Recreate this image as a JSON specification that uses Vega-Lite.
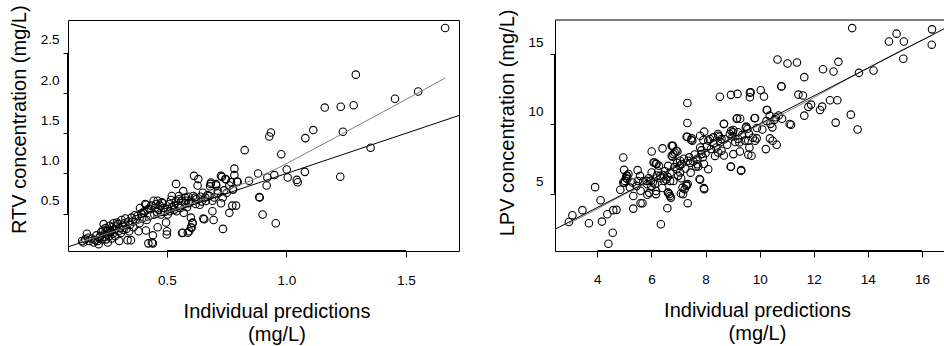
{
  "$schema": "https://vega.github.io/schema/vega-lite/v6.json",
  "background": "white",
  "padding": {"left": 8, "top": 4, "right": 0, "bottom": 0},
  "bounds": "flush",
  "spacing": 96,
  "config": {
    "font": "Liberation Sans",
    "view": {"stroke": "black", "strokeWidth": 1},
    "axis": {
      "domain": false, "grid": false, "tickColor": "black", "tickWidth": 1,
      "labelColor": "black", "labelFont": "Liberation Sans", "labelFontSize": 13.5,
      "titleFont": "Liberation Sans", "titleFontSize": 20, "titleFontWeight": "normal", "titleColor": "black",
      "titleLineHeight": 23
    }
  },
  "datasets": {
    "rtv": [
      {"x":0.145,"y":0.16},{"x":0.150,"y":0.14},{"x":0.158,"y":0.18},{"x":0.165,"y":0.25},{"x":0.170,"y":0.20},{"x":0.175,"y":0.16},{"x":0.185,"y":0.19},{"x":0.193,"y":0.14},{"x":0.200,"y":0.17},{"x":0.205,"y":0.23},
      {"x":0.210,"y":0.16},{"x":0.214,"y":0.12},{"x":0.218,"y":0.20},{"x":0.221,"y":0.22},{"x":0.225,"y":0.27},{"x":0.228,"y":0.18},{"x":0.232,"y":0.30},{"x":0.235,"y":0.37},{"x":0.238,"y":0.25},{"x":0.240,"y":0.21},
      {"x":0.243,"y":0.32},{"x":0.245,"y":0.18},{"x":0.248,"y":0.28},{"x":0.250,"y":0.24},{"x":0.252,"y":0.14},{"x":0.255,"y":0.30},{"x":0.258,"y":0.22},{"x":0.260,"y":0.35},{"x":0.263,"y":0.27},{"x":0.266,"y":0.28},
      {"x":0.268,"y":0.19},{"x":0.270,"y":0.33},{"x":0.273,"y":0.25},{"x":0.276,"y":0.38},{"x":0.280,"y":0.30},{"x":0.283,"y":0.22},{"x":0.287,"y":0.34},{"x":0.291,"y":0.39},{"x":0.294,"y":0.37},{"x":0.297,"y":0.28},
      {"x":0.300,"y":0.16},{"x":0.303,"y":0.32},{"x":0.307,"y":0.26},{"x":0.310,"y":0.42},{"x":0.314,"y":0.35},{"x":0.318,"y":0.30},{"x":0.322,"y":0.38},{"x":0.326,"y":0.44},{"x":0.330,"y":0.31},{"x":0.335,"y":0.17},
      {"x":0.338,"y":0.40},{"x":0.342,"y":0.28},{"x":0.345,"y":0.36},{"x":0.349,"y":0.17},{"x":0.352,"y":0.45},{"x":0.356,"y":0.40},{"x":0.360,"y":0.33},{"x":0.365,"y":0.48},{"x":0.370,"y":0.43},{"x":0.377,"y":0.47},
      {"x":0.381,"y":0.28},{"x":0.385,"y":0.38},{"x":0.387,"y":0.57},{"x":0.392,"y":0.50},{"x":0.396,"y":0.45},{"x":0.402,"y":0.51},{"x":0.405,"y":0.53},{"x":0.409,"y":0.62},{"x":0.412,"y":0.29},{"x":0.412,"y":0.61},
      {"x":0.415,"y":0.42},{"x":0.418,"y":0.55},{"x":0.422,"y":0.13},{"x":0.426,"y":0.56},{"x":0.430,"y":0.48},{"x":0.434,"y":0.60},{"x":0.437,"y":0.14},{"x":0.441,"y":0.23},{"x":0.441,"y":0.13},{"x":0.444,"y":0.66},
      {"x":0.447,"y":0.49},{"x":0.450,"y":0.57},{"x":0.455,"y":0.62},{"x":0.458,"y":0.52},{"x":0.461,"y":0.66},{"x":0.461,"y":0.33},{"x":0.465,"y":0.55},{"x":0.470,"y":0.60},{"x":0.475,"y":0.49},{"x":0.478,"y":0.64},
      {"x":0.482,"y":0.63},{"x":0.485,"y":0.57},{"x":0.490,"y":0.52},{"x":0.496,"y":0.39},{"x":0.499,"y":0.24},{"x":0.500,"y":0.28},{"x":0.503,"y":0.56},{"x":0.503,"y":0.49},{"x":0.508,"y":0.62},{"x":0.512,"y":0.53},
      {"x":0.517,"y":0.67},{"x":0.522,"y":0.58},{"x":0.530,"y":0.55},{"x":0.538,"y":0.66},{"x":0.538,"y":0.87},{"x":0.545,"y":0.61},{"x":0.550,"y":0.68},{"x":0.556,"y":0.57},{"x":0.563,"y":0.26},{"x":0.568,"y":0.78},
      {"x":0.570,"y":0.51},{"x":0.576,"y":0.63},{"x":0.584,"y":0.58},{"x":0.591,"y":0.63},{"x":0.593,"y":0.28},{"x":0.600,"y":0.33},{"x":0.607,"y":0.38},{"x":0.613,"y":0.97},{"x":0.618,"y":0.70},{"x":0.622,"y":0.68},
      {"x":0.628,"y":0.85},{"x":0.631,"y":0.93},{"x":0.637,"y":0.61},{"x":0.645,"y":0.65},{"x":0.656,"y":0.43},{"x":0.660,"y":0.70},{"x":0.670,"y":0.73},{"x":0.678,"y":0.72},{"x":0.680,"y":0.84},{"x":0.683,"y":0.87},
      {"x":0.690,"y":0.53},{"x":0.695,"y":0.42},{"x":0.698,"y":0.70},{"x":0.706,"y":0.85},{"x":0.713,"y":0.75},{"x":0.726,"y":0.97},{"x":0.726,"y":0.63},{"x":0.734,"y":0.31},{"x":0.739,"y":0.79},{"x":0.744,"y":0.93},
      {"x":0.750,"y":0.76},{"x":0.761,"y":0.85},{"x":0.761,"y":0.51},{"x":0.768,"y":0.89},{"x":0.773,"y":0.60},{"x":0.777,"y":0.80},{"x":0.782,"y":1.06},{"x":0.782,"y":0.98},{"x":0.789,"y":0.60},{"x":0.793,"y":0.90},
      {"x":0.825,"y":1.29},{"x":0.843,"y":0.91},{"x":0.881,"y":1.00},{"x":0.888,"y":0.70},{"x":0.900,"y":0.49},{"x":0.917,"y":0.85},{"x":0.920,"y":0.95},{"x":0.928,"y":1.46},{"x":0.935,"y":1.51},{"x":0.949,"y":0.98},
      {"x":0.955,"y":0.38},{"x":0.978,"y":1.24},{"x":1.001,"y":1.05},{"x":1.005,"y":0.95},{"x":1.043,"y":0.92},{"x":1.047,"y":0.89},{"x":1.077,"y":1.02},{"x":1.079,"y":1.44},{"x":1.112,"y":1.54},{"x":1.160,"y":1.82},
      {"x":1.225,"y":0.96},{"x":1.227,"y":1.83},{"x":1.236,"y":1.52},{"x":1.281,"y":1.85},{"x":1.290,"y":2.23},{"x":1.352,"y":1.32},{"x":1.454,"y":1.93},{"x":1.551,"y":2.02},{"x":1.664,"y":2.81},
      {"x":0.55,"y":0.72},{"x":0.56,"y":0.66},{"x":0.575,"y":0.70},{"x":0.59,"y":0.71},{"x":0.60,"y":0.66},{"x":0.61,"y":0.72},{"x":0.62,"y":0.62},{"x":0.64,"y":0.71},{"x":0.65,"y":0.76},{"x":0.52,"y":0.72},
      {"x":0.53,"y":0.60},{"x":0.54,"y":0.53},{"x":0.58,"y":0.66},{"x":0.60,"y":0.45},{"x":0.603,"y":0.325},{"x":0.566,"y":0.263},{"x":0.587,"y":0.263},{"x":0.652,"y":0.438},{"x":0.663,"y":0.658},{"x":0.705,"y":0.867},
      {"x":0.730,"y":0.958},{"x":0.796,"y":0.895},{"x":0.775,"y":0.80},{"x":0.712,"y":0.783},{"x":0.733,"y":0.70},{"x":0.69,"y":0.66},{"x":0.886,"y":0.708},{"x":0.607,"y":0.388},{"x":0.684,"y":0.887},{"x":0.747,"y":0.929}
    ],
    "rtvIdentity": [{"x":0,"y":0},{"x":3,"y":3}],
    "rtvSmooth": [
      {"x":0.145,"y":0.15},{"x":0.30,"y":0.30},{"x":0.45,"y":0.46},{"x":0.60,"y":0.62},{"x":0.72,"y":0.76},{"x":0.85,"y":0.91},{"x":0.977,"y":1.086},{"x":1.20,"y":1.44},{"x":1.45,"y":1.84},{"x":1.664,"y":2.188}
    ],
    "lpv": [
      {"x":13.42,"y":16.87},{"x":15.06,"y":16.47},{"x":14.78,"y":15.91},{"x":15.33,"y":15.91},{"x":16.37,"y":16.78},{"x":16.36,"y":15.68},{"x":15.31,"y":14.67},{"x":14.21,"y":13.83},{"x":13.67,"y":13.66},{"x":12.34,"y":13.92},
      {"x":12.73,"y":13.76},{"x":12.91,"y":14.45},{"x":10.66,"y":14.62},{"x":11.03,"y":14.33},{"x":11.38,"y":14.40},{"x":11.65,"y":13.35},{"x":10.81,"y":12.70},{"x":11.43,"y":12.10},{"x":11.60,"y":12.03},{"x":10.04,"y":12.41},
      {"x":10.16,"y":11.96},{"x":8.53,"y":11.94},{"x":8.94,"y":12.08},{"x":9.18,"y":12.15},{"x":9.64,"y":12.24},{"x":9.64,"y":11.91},{"x":7.33,"y":11.50},{"x":12.60,"y":11.69},{"x":12.87,"y":11.69},{"x":11.80,"y":11.22},
      {"x":11.90,"y":11.38},{"x":12.23,"y":11.00},{"x":12.31,"y":11.24},{"x":10.26,"y":11.00},{"x":11.65,"y":10.59},{"x":13.37,"y":10.66},{"x":13.62,"y":9.60},{"x":12.81,"y":10.09},{"x":10.37,"y":10.59},{"x":10.60,"y":10.47},
      {"x":10.83,"y":10.37},{"x":11.16,"y":9.94},{"x":10.47,"y":9.75},{"x":9.83,"y":10.42},{"x":9.15,"y":10.37},{"x":9.28,"y":10.37},{"x":8.68,"y":9.99},{"x":7.33,"y":10.06},{"x":9.49,"y":9.73},{"x":9.55,"y":9.63},
      {"x":9.03,"y":9.56},{"x":8.90,"y":9.27},{"x":7.30,"y":9.08},{"x":7.49,"y":8.96},{"x":7.95,"y":9.44},{"x":7.80,"y":9.15},{"x":7.92,"y":8.84},{"x":8.16,"y":8.91},{"x":8.47,"y":9.15},{"x":8.59,"y":8.91},
      {"x":9.21,"y":8.91},{"x":9.25,"y":8.67},{"x":9.58,"y":8.79},{"x":9.89,"y":8.96},{"x":9.83,"y":8.79},{"x":10.38,"y":8.96},{"x":10.48,"y":8.79},{"x":10.63,"y":8.50},{"x":10.23,"y":8.19},{"x":9.62,"y":8.31},
      {"x":9.58,"y":7.78},{"x":9.70,"y":7.71},{"x":9.27,"y":8.02},{"x":9.03,"y":7.83},{"x":8.68,"y":7.73},{"x":8.47,"y":7.95},{"x":8.59,"y":8.07},{"x":8.29,"y":9.03},{"x":7.80,"y":8.31},{"x":7.85,"y":7.83},
      {"x":7.51,"y":8.79},{"x":6.77,"y":8.41},{"x":6.96,"y":8.02},{"x":6.41,"y":8.24},{"x":6.01,"y":8.02},{"x":6.81,"y":7.83},{"x":6.78,"y":7.64},{"x":6.08,"y":7.23},{"x":6.19,"y":7.12},{"x":6.28,"y":6.99},
      {"x":7.06,"y":7.35},{"x":7.12,"y":7.12},{"x":7.36,"y":7.35},{"x":7.43,"y":7.19},{"x":7.65,"y":6.94},{"x":7.73,"y":6.94},{"x":7.94,"y":7.12},{"x":8.10,"y":6.75},{"x":8.94,"y":6.94},{"x":9.31,"y":6.63},
      {"x":4.96,"y":7.59},{"x":4.99,"y":6.70},{"x":5.08,"y":6.27},{"x":5.02,"y":5.91},{"x":5.11,"y":6.04},{"x":4.96,"y":5.79},{"x":5.49,"y":6.68},{"x":5.58,"y":6.27},{"x":5.30,"y":5.79},{"x":5.45,"y":5.55},
      {"x":5.21,"y":5.43},{"x":4.85,"y":5.27},{"x":3.92,"y":5.46},{"x":4.12,"y":4.52},{"x":3.45,"y":3.81},{"x":3.08,"y":3.45},{"x":2.95,"y":2.96},{"x":3.69,"y":2.87},{"x":4.17,"y":2.99},{"x":4.37,"y":3.52},
      {"x":4.59,"y":3.81},{"x":4.71,"y":3.83},{"x":4.57,"y":2.19},{"x":4.41,"y":1.40},{"x":5.33,"y":4.83},{"x":5.33,"y":3.92},{"x":5.60,"y":4.31},{"x":5.67,"y":4.31},{"x":5.85,"y":4.91},{"x":5.92,"y":5.05},
      {"x":5.82,"y":5.91},{"x":6.17,"y":4.96},{"x":6.01,"y":6.51},{"x":6.13,"y":5.68},{"x":6.32,"y":6.27},{"x":6.44,"y":6.32},{"x":6.48,"y":5.91},{"x":6.62,"y":6.99},{"x":6.69,"y":5.91},{"x":6.81,"y":5.91},
      {"x":6.62,"y":5.07},{"x":6.69,"y":4.83},{"x":6.59,"y":3.95},{"x":6.35,"y":2.80},{"x":7.09,"y":5.00},{"x":7.30,"y":5.55},{"x":7.34,"y":5.68},{"x":7.15,"y":5.43},{"x":7.34,"y":4.31},{"x":6.99,"y":6.27},
      {"x":7.06,"y":6.51},{"x":6.93,"y":6.75},{"x":7.80,"y":5.99},{"x":7.95,"y":5.32},{"x":5.98,"y":5.91},{"x":6.75,"y":8.43},{"x":6.75,"y":7.71},{"x":6.11,"y":7.23},{"x":6.17,"y":7.16},{"x":5.15,"y":6.40},
      {"x":5.06,"y":6.11},{"x":5.00,"y":5.77},{"x":5.10,"y":6.27},{"x":6.17,"y":5.19},{"x":6.66,"y":4.96},{"x":6.72,"y":4.71},{"x":5.84,"y":5.68},{"x":9.67,"y":12.27},{"x":10.80,"y":12.68},{"x":8.68,"y":10.00},
      {"x":9.17,"y":10.40},{"x":9.81,"y":10.40},{"x":10.28,"y":11.00},{"x":11.11,"y":9.99},{"x":9.51,"y":9.80},{"x":9.01,"y":9.39},{"x":8.95,"y":9.51},{"x":8.46,"y":9.27},{"x":8.52,"y":9.08},{"x":7.33,"y":9.08},
      {"x":7.47,"y":8.84},{"x":6.80,"y":8.43},{"x":6.86,"y":7.95},{"x":6.92,"y":8.07},{"x":8.93,"y":6.92},{"x":9.32,"y":6.68},{"x":7.78,"y":6.04},{"x":7.94,"y":5.39},{"x":7.29,"y":5.63},{"x":7.23,"y":5.32},
      {"x":7.17,"y":4.96},{"x":6.61,"y":5.07},{"x":5.7,"y":5.9},{"x":5.9,"y":6.1},{"x":6.05,"y":5.8},{"x":6.2,"y":6.3},{"x":6.35,"y":6.1},{"x":6.5,"y":6.6},{"x":6.6,"y":6.2},{"x":6.7,"y":6.5},
      {"x":6.85,"y":6.9},{"x":6.95,"y":7.2},{"x":7.05,"y":7.0},{"x":7.2,"y":7.5},{"x":7.25,"y":6.8},{"x":7.4,"y":7.6},{"x":7.55,"y":7.3},{"x":7.6,"y":7.8},{"x":7.7,"y":7.5},{"x":7.85,"y":8.1},
      {"x":7.9,"y":7.6},{"x":8.05,"y":8.4},{"x":8.2,"y":8.2},{"x":8.3,"y":8.6},{"x":8.4,"y":8.3},{"x":8.55,"y":8.7},{"x":8.7,"y":8.9},{"x":8.8,"y":8.5},{"x":9.0,"y":9.1},{"x":9.1,"y":8.7},
      {"x":9.2,"y":9.4},{"x":9.35,"y":9.2},{"x":9.45,"y":8.8},{"x":9.6,"y":9.3},{"x":9.75,"y":9.0},{"x":9.9,"y":9.7},{"x":10.1,"y":9.6},{"x":10.25,"y":10.2},{"x":10.4,"y":10.0},{"x":10.55,"y":10.3},
      {"x":10.7,"y":10.6},{"x":6.4,"y":5.4},{"x":6.0,"y":5.5},{"x":5.6,"y":5.2},{"x":5.5,"y":5.9},{"x":6.25,"y":6.6},{"x":6.55,"y":6.0},{"x":7.1,"y":6.1},{"x":7.45,"y":6.5},{"x":7.7,"y":7.1},
      {"x":8.0,"y":7.9},{"x":8.35,"y":7.7},{"x":8.1,"y":8.8}
    ],
    "lpvIdentity": [{"x":0,"y":0},{"x":20,"y":20}],
    "lpvSmooth": [
      {"x":2.95,"y":2.85},{"x":4,"y":3.9},{"x":5,"y":4.95},{"x":6,"y":5.95},{"x":7,"y":6.98},{"x":8,"y":7.98},{"x":9,"y":8.97},{"x":10,"y":9.92},{"x":11,"y":10.85},{"x":12,"y":11.88},{"x":13,"y":12.95},{"x":14,"y":14.0},{"x":15,"y":15.05},{"x":16.37,"y":16.35}
    ]
  },
  "hconcat": [
    {
      "width": 391,
      "height": 231,
      "layer": [
        {
          "data": {"name": "rtv"},
          "mark": {"type": "point", "shape": "circle", "filled": false, "size": 56, "strokeWidth": 1.1, "color": "black", "opacity": 1},
          "encoding": {
            "x": {"field": "x", "type": "quantitative",
              "scale": {"domain": [0.0858, 1.7218], "nice": false, "zero": false},
              "axis": {"title": ["Individual predictions", "(mg/L)"], "values": [0.5, 1, 1.5], "format": ".1f",
                "tickSize": 6, "labelPadding": 16, "titleX": 208.5, "titleY": 66.7, "titleBaseline": "alphabetic", "titleAlign": "center", "titleAngle": 0}},
            "y": {"field": "y", "type": "quantitative",
              "scale": {"domain": [0.035, 2.91], "nice": false, "zero": false},
              "axis": {"title": "RTV concentration (mg/L)", "values": [0.5, 1, 1.5, 2, 2.5], "format": ".1f",
                "tickSize": 5, "labelPadding": 4, "labelOffset": -13, "labelBaseline": "middle", "labelAlign": "right",
                "titleX": -43, "titleY": 99.2, "titleBaseline": "alphabetic", "titleAlign": "center", "titleAngle": 270}}
          }
        },
        {
          "data": {"name": "rtvIdentity"},
          "mark": {"type": "line", "color": "black", "strokeWidth": 1, "clip": true},
          "encoding": {"x": {"field": "x", "type": "quantitative"}, "y": {"field": "y", "type": "quantitative"}}
        },
        {
          "data": {"name": "rtvSmooth"},
          "mark": {"type": "line", "color": "#808078", "strokeWidth": 1, "clip": true},
          "encoding": {"x": {"field": "x", "type": "quantitative"}, "y": {"field": "y", "type": "quantitative"}}
        },
        {
          "data": {"values": [{}]},
          "mark": {"type": "rule", "color": "black", "strokeWidth": 2},
          "encoding": {"x": {"datum": 0.5}, "x2": {"datum": 1.5}, "y": {"datum": 0.035}}
        },
        {
          "data": {"values": [{}]},
          "mark": {"type": "rule", "color": "black", "strokeWidth": 2},
          "encoding": {"y": {"datum": 0.5}, "y2": {"datum": 2.5}, "x": {"datum": 0.0858}}
        }
      ]
    },
    {
      "width": 390,
      "height": 231,
      "view": {"stroke": null},
      "layer": [
        {
          "data": {"name": "lpv"},
          "mark": {"type": "point", "shape": "circle", "filled": false, "size": 56, "strokeWidth": 1.1, "color": "black", "opacity": 1},
          "encoding": {
            "x": {"field": "x", "type": "quantitative",
              "scale": {"domain": [2.437, 16.85], "nice": false, "zero": false},
              "axis": {"title": ["Individual predictions", "(mg/L)"], "values": [4, 6, 8, 10, 12, 14, 16],
                "domain": true, "domainColor": "black", "domainWidth": 1,
                "tickSize": 6, "labelPadding": 15, "titleX": 202, "titleY": 65.7, "titleBaseline": "alphabetic", "titleAlign": "center", "titleAngle": 0}},
            "y": {"field": "y", "type": "quantitative",
              "scale": {"domain": [0.88, 17.45], "nice": false, "zero": false},
              "axis": {"title": "LPV concentration (mg/L)", "values": [5, 10, 15],
                "domain": true, "domainColor": "black", "domainWidth": 1,
                "tickSize": 5, "labelPadding": 7, "labelOffset": -12, "labelBaseline": "middle", "labelAlign": "right",
                "titleX": -42, "titleY": 102.4, "titleBaseline": "alphabetic", "titleAlign": "center", "titleAngle": 270}}
          }
        },
        {
          "data": {"name": "lpvSmooth"},
          "mark": {"type": "line", "color": "#808078", "strokeWidth": 1, "clip": true},
          "encoding": {"x": {"field": "x", "type": "quantitative"}, "y": {"field": "y", "type": "quantitative"}}
        },
        {
          "data": {"name": "lpvIdentity"},
          "mark": {"type": "line", "color": "black", "strokeWidth": 1, "clip": true},
          "encoding": {"x": {"field": "x", "type": "quantitative"}, "y": {"field": "y", "type": "quantitative"}}
        },
        {
          "data": {"values": [{}]},
          "mark": {"type": "rule", "color": "black", "strokeWidth": 1},
          "encoding": {"y": {"datum": 17.45}}
        },
        {
          "data": {"values": [{}]},
          "mark": {"type": "rule", "color": "black", "strokeWidth": 2},
          "encoding": {"x": {"datum": 4}, "x2": {"datum": 16}, "y": {"datum": 0.88}}
        },
        {
          "data": {"values": [{}]},
          "mark": {"type": "rule", "color": "black", "strokeWidth": 2},
          "encoding": {"y": {"datum": 5}, "y2": {"datum": 15}, "x": {"datum": 2.437}}
        }
      ]
    }
  ]
}
